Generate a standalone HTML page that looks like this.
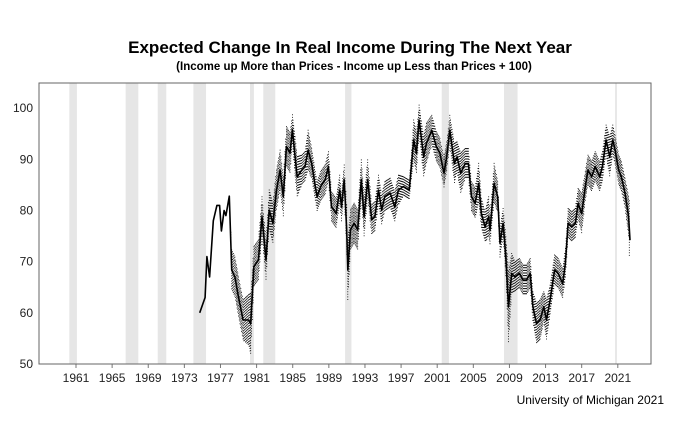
<!DOCTYPE html>
<html><head><meta charset="utf-8"><style>
html,body{margin:0;padding:0;background:#fff;}
body{width:680px;height:420px;overflow:hidden;font-family:"Liberation Sans",sans-serif;}
</style></head><body>
<svg width="680" height="420" xmlns="http://www.w3.org/2000/svg">
<text x="350" y="53" text-anchor="middle" font-size="17" font-weight="bold" font-family="Liberation Sans">Expected Change In Real Income During The Next Year</text>
<text x="354" y="70" text-anchor="middle" font-size="11.5" font-weight="bold" font-family="Liberation Sans">(Income up More than Prices - Income up Less than Prices + 100)</text>
<text x="664" y="404" text-anchor="end" font-size="12" font-family="Liberation Sans">University of Michigan 2021</text>
<g id="bands"></g>
<g id="grid"></g>
<g id="series"></g>
<rect x="39" y="83" width="612" height="281" fill="none" stroke="#666" stroke-width="1"/>
</svg>
<script>
const recStart=[1960.26,1966.5,1970.05,1974.0,1980.27,1981.74,1990.8,2001.5,2008.4,2020.7];
const recEnd=[1961.1,1967.9,1971.0,1975.4,1980.7,1983.07,1991.5,2002.3,2009.9,2020.9];
const yTicks=[50,60,70,80,90,100];
const xTickYears=[1961,1965,1969,1973,1977,1981,1985,1989,1993,1997,2001,2005,2009,2013,2017,2021];
const years=[1974.7,1975.3,1975.5,1975.8,1976.2,1976.6,1976.9,1977.1,1977.4,1977.6,1977.98,
1978.24,1978.6,1979.0,1979.5,1980.1,1980.35,1980.7,1981.2,1981.6,1982.04,1982.4,1982.8,1983.2,1983.6,1983.96,1984.3,1984.7,1984.96,1985.26,1985.5,1986.0,1986.36,1986.7,1987.1,1987.5,1987.7,1988.1,1988.6,1988.95,1989.3,1989.8,1990.2,1990.4,1990.7,1990.98,1991.1,1991.4,1991.8,1992.2,1992.6,1992.9,1993.3,1993.75,1994.1,1994.5,1994.85,1995.2,1995.8,1996.3,1996.7,1997.25,1997.9,1998.4,1998.7,1999.0,1999.5,1999.8,2000.4,2000.9,2001.3,2001.75,2002.05,2002.4,2002.9,2003.2,2003.6,2004.1,2004.45,2004.8,2005.2,2005.6,2005.9,2006.3,2006.7,2006.85,2007.3,2007.7,2007.95,2008.3,2008.6,2008.9,2009.25,2009.6,2010.1,2010.5,2010.9,2011.3,2011.6,2012.0,2012.4,2012.8,2013.1,2013.5,2014.0,2014.4,2014.9,2015.2,2015.5,2015.9,2016.3,2016.6,2017.0,2017.4,2017.7,2018.1,2018.5,2019.0,2019.3,2019.7,2020.1,2020.45,2020.7,2021.1,2021.4,2021.8,2022.2,2022.35];
const values=[60,63,71,67,78,81,81,76,80,79,82.8,
68.4,67,63.1,58.6,58.6,57.9,69,70.3,78.8,70.3,80.1,77.5,84,87.9,82.7,92.5,91.2,95.8,90.5,86.6,87.9,88.6,91.8,89.2,84.7,82.7,84.7,86,88.6,80.7,79.4,84,80.7,86,76.2,68.4,76.2,77.5,76.2,86,78.8,86,78.2,78.8,84,80.1,82.7,83.4,80.7,84,84.7,84,93.8,91.2,97.7,90.5,93.1,95.7,92.5,91.2,87.3,90.5,95.7,89.2,90.5,87.3,89.2,89.2,82.7,81.4,85.3,79.4,76.8,78.8,76.2,85.3,82.7,73.6,77.5,71,61.2,67.7,67,67.7,66.4,66.4,67.7,61.2,57.9,58.6,61.2,58.6,62.5,68.4,67.7,65.7,69.7,77.5,76.8,77.5,81.4,79.4,84.7,87.9,86.6,88.6,86.6,88.6,93.8,90.5,93.8,91.8,87.9,86.6,83.4,78.8,74.2];
const spread=[0,0,0,0,0,0,0,0,0,0,0,
4,4,4,4,5,6,4,4,4,4,4,4,4,4,4,4,4,3,4,4,3,3,4,3,3,3,3,3,3,3,3,3,3,3,5,6,4,4,4,4,4,4,3,3,3,3,3,3,3,3,2,2,4,4,3,4,4,3,3,3,3,3,3,4,3,4,3,3,3,3,4,3,3,4,3,4,3,3,3,4,7,4,3,3,3,3,3,3,4,4,3,4,3,3,3,3,3,3,3,3,3,4,3,3,3,3,3,3,3,4,3,3,3,3,3,4,7];
const NS="http://www.w3.org/2000/svg";
function xs(yr){return 76+(yr-1961)*9.03;}
function ys(v){return 364-(v-50)*5.116;}
const bands=document.getElementById('bands'),grid=document.getElementById('grid'),ser=document.getElementById('series');
for(let i=0;i<recStart.length;i++){
 const r=document.createElementNS(NS,'rect');
 r.setAttribute('x',xs(recStart[i]));r.setAttribute('y',83);
 r.setAttribute('width',xs(recEnd[i])-xs(recStart[i]));r.setAttribute('height',281);
 r.setAttribute('fill','#e6e6e6');
 
 
 bands.appendChild(r);
}
yTicks.forEach(v=>{
 const t=document.createElementNS(NS,'text');
 t.setAttribute('x',33);t.setAttribute('y',ys(v)+4);t.setAttribute('text-anchor','end');
 t.setAttribute('font-size','12');t.setAttribute('font-family','Liberation Sans');t.setAttribute('fill','#222');
 t.textContent=v;
 
 
 grid.appendChild(t);
});
xTickYears.forEach(y=>{
 const l=document.createElementNS(NS,'line');
 l.setAttribute('x1',xs(y));l.setAttribute('x2',xs(y));l.setAttribute('y1',364);l.setAttribute('y2',368);
 l.setAttribute('stroke','#777');
 
 
 grid.appendChild(l);
 const t=document.createElementNS(NS,'text');
 t.setAttribute('x',xs(y));t.setAttribute('y',382);t.setAttribute('text-anchor','middle');
 t.setAttribute('font-size','12');t.setAttribute('font-family','Liberation Sans');t.setAttribute('fill','#222');
 t.textContent=y;
 
 
 grid.appendChild(t);
});
let d='';
for(let i=0;i<years.length-1;i++){
 const n=Math.max(1,Math.round((years[i+1]-years[i])*12));
 for(let k=0;k<n;k++){
  const f=k/n;const yr=years[i]+(years[i+1]-years[i])*f;
  const v=values[i]+(values[i+1]-values[i])*f;const s=spread[i]+(spread[i+1]-spread[i])*f;
  if(s<=0)continue;
  const x=xs(yr).toFixed(1);
  d+='M'+x+' '+ys(v+s).toFixed(1)+'V'+ys(v-s).toFixed(1);
 }
}
const dp=document.createElementNS(NS,'path');
dp.setAttribute('d',d);dp.setAttribute('stroke','#000');dp.setAttribute('stroke-width','0.8');dp.setAttribute('stroke-dasharray','1,1.6');dp.setAttribute('fill','none');


ser.appendChild(dp);
const pl=document.createElementNS(NS,'polyline');
pl.setAttribute('points',years.map((y,i)=>xs(y).toFixed(1)+','+ys(values[i]).toFixed(1)).join(' '));
pl.setAttribute('fill','none');pl.setAttribute('stroke','#000');pl.setAttribute('stroke-width','1.6');pl.setAttribute('stroke-linejoin','round');


ser.appendChild(pl);
</script>
</body></html>
